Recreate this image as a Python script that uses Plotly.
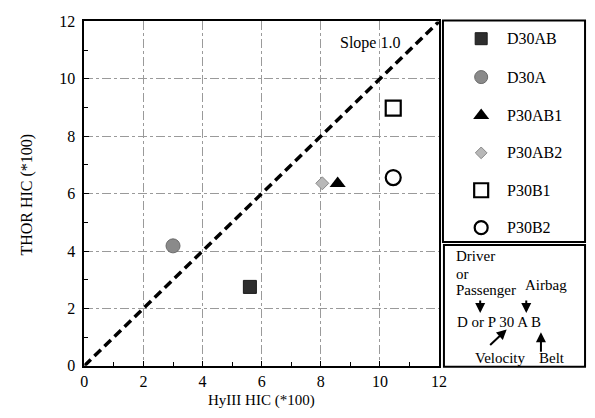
import plotly.graph_objects as go

W, H = 595, 418

# ---- data ----
names = ["D30AB", "D30A", "P30AB1", "P30AB2", "P30B1", "P30B2"]
hy3_hic = [5.6, 3.0, 8.57, 8.05, 10.45, 10.45]
thor_hic = [2.75, 4.18, 6.35, 6.36, 8.98, 6.56]
slope_x = [0, 12]
slope_y = [0, 12]
tick_vals = [0, 2, 4, 6, 8, 10, 12]
tick_text = ["0", "2", "4", "6", "8", "10", "12"]

# ---- styles ----
symbols = ["square", "circle", "triangle-up", "diamond", "square-open", "circle-open"]
fills = ["#2e2e2e", "#8a8a8a", "#000000", "#b8b8b8", "#000000", "#000000"]
lines = ["#1a1a1a", "#6a6a6a", "#000000", "#8a8a8a", "#000000", "#000000"]
lwidths = [1, 1, 0, 1, 2.2, 2.2]
sizes = [13, 14, 14, 10, 15, 15]
leg_sizes = [12, 13, 14, 9, 14, 13]

FONT = "Liberation Serif"


def fx(px):
    return px / W


def fy(py):
    return 1 - py / H


fig = go.Figure()

fig.add_trace(go.Scatter(x=slope_x, y=slope_y, mode="lines",
                         line=dict(color="black", width=3.5, dash="9px,5px"),
                         showlegend=False, hoverinfo="skip"))

leg_rows = [32, 72, 112, 151, 190, 229]
for i, n in enumerate(names):
    mk = dict(symbol=symbols[i], size=sizes[i], color=fills[i],
              line=dict(color=lines[i], width=lwidths[i]))
    fig.add_trace(go.Scatter(x=[hy3_hic[i]], y=[thor_hic[i]], mode="markers",
                             marker=mk, name=n, showlegend=False))
    mk2 = dict(mk, size=leg_sizes[i])
    fig.add_trace(go.Scatter(x=[487], y=[leg_rows[i]], mode="markers",
                             marker=mk2, xaxis="x2", yaxis="y2",
                             showlegend=False, hoverinfo="skip"))

axis_common = dict(
    range=[0, 12], tickvals=tick_vals, ticktext=tick_text,
    showgrid=True, gridcolor="#9a9a9a", gridwidth=1, griddash="dashdot",
    zeroline=False, showline=True, linecolor="black", linewidth=2, mirror=True,
    ticks="inside", ticklen=5, tickcolor="black", tickwidth=1,
    minor=dict(dtick=1, tick0=0, ticks="inside", ticklen=4, tickcolor="black", showgrid=False),
    tickfont=dict(family=FONT, size=16, color="black"),
)


def txt(t, x, y, size=16, xa="left", ya="middle", angle=0):
    return dict(x=fx(x), y=fy(y), xref="paper", yref="paper", text=t,
                showarrow=False, xanchor=xa, yanchor=ya, textangle=angle,
                font=dict(family=FONT, size=size, color="black"))


annotations = [
    dict(x=9.68, y=11.25, xref="x", yref="y", text="Slope 1.0", showarrow=False,
         xanchor="center", yanchor="middle",
         font=dict(family=FONT, size=16, color="black")),
    dict(txt("HyIII HIC (*100)", 263, 419, size=15, xa="center", ya="bottom"), borderpad=0),
    txt("THOR HIC (*100)", 24, 195, size=16, xa="center", angle=-90),
]
for i, n in enumerate(names):
    annotations.append(txt(n, 511, leg_rows[i], size=16))

box_texts = [
    ("Driver", 459, 259), ("or", 459, 277), ("Passenger", 459, 294),
    ("Airbag", 530, 289), ("D or P 30 A B", 460, 327),
    ("Velocity", 479, 365), ("Belt", 544, 365),
]
for t, x0, y0 in box_texts:
    annotations.append(txt(t, x0, y0, size=15))

arrows = [
    (486, 318, 0, -14), (533, 318, 0, -14), (513, 335, -18, 17), (548, 338, 0, 21),
]
for hx, hy, ax, ay in arrows:
    annotations.append(dict(x=fx(hx), y=fy(hy), xref="paper", yref="paper", text="",
                            showarrow=True, ax=ax, ay=ay, arrowhead=2, arrowsize=1,
                            arrowwidth=2, arrowcolor="black"))

shapes = [
    dict(type="rect", xref="paper", yref="paper", x0=fx(448), x1=fx(593),
         y0=fy(244), y1=fy(13), line=dict(color="black", width=2)),
    dict(type="rect", xref="paper", yref="paper", x0=fx(449), x1=fx(593),
         y0=fy(374), y1=fy(247), line=dict(color="black", width=2)),
]

fig.update_layout(
    width=W, height=H,
    margin=dict(l=0, r=0, t=0, b=0),
    paper_bgcolor="white", plot_bgcolor="white",
    showlegend=False,
    xaxis=dict(axis_common, domain=[fx(82), fx(444)], anchor="y", ticklabelstandoff=0),
    yaxis=dict(axis_common, domain=[fy(373), fy(14)], anchor="x", ticklabelstandoff=4),
    xaxis2=dict(domain=[fx(448), fx(593)], range=[448, 593], visible=False, anchor="y2"),
    yaxis2=dict(domain=[fy(244), fy(13)], range=[244, 13], visible=False, anchor="x2"),
    annotations=annotations,
    shapes=shapes,
)

fig.write_html("out.html")
